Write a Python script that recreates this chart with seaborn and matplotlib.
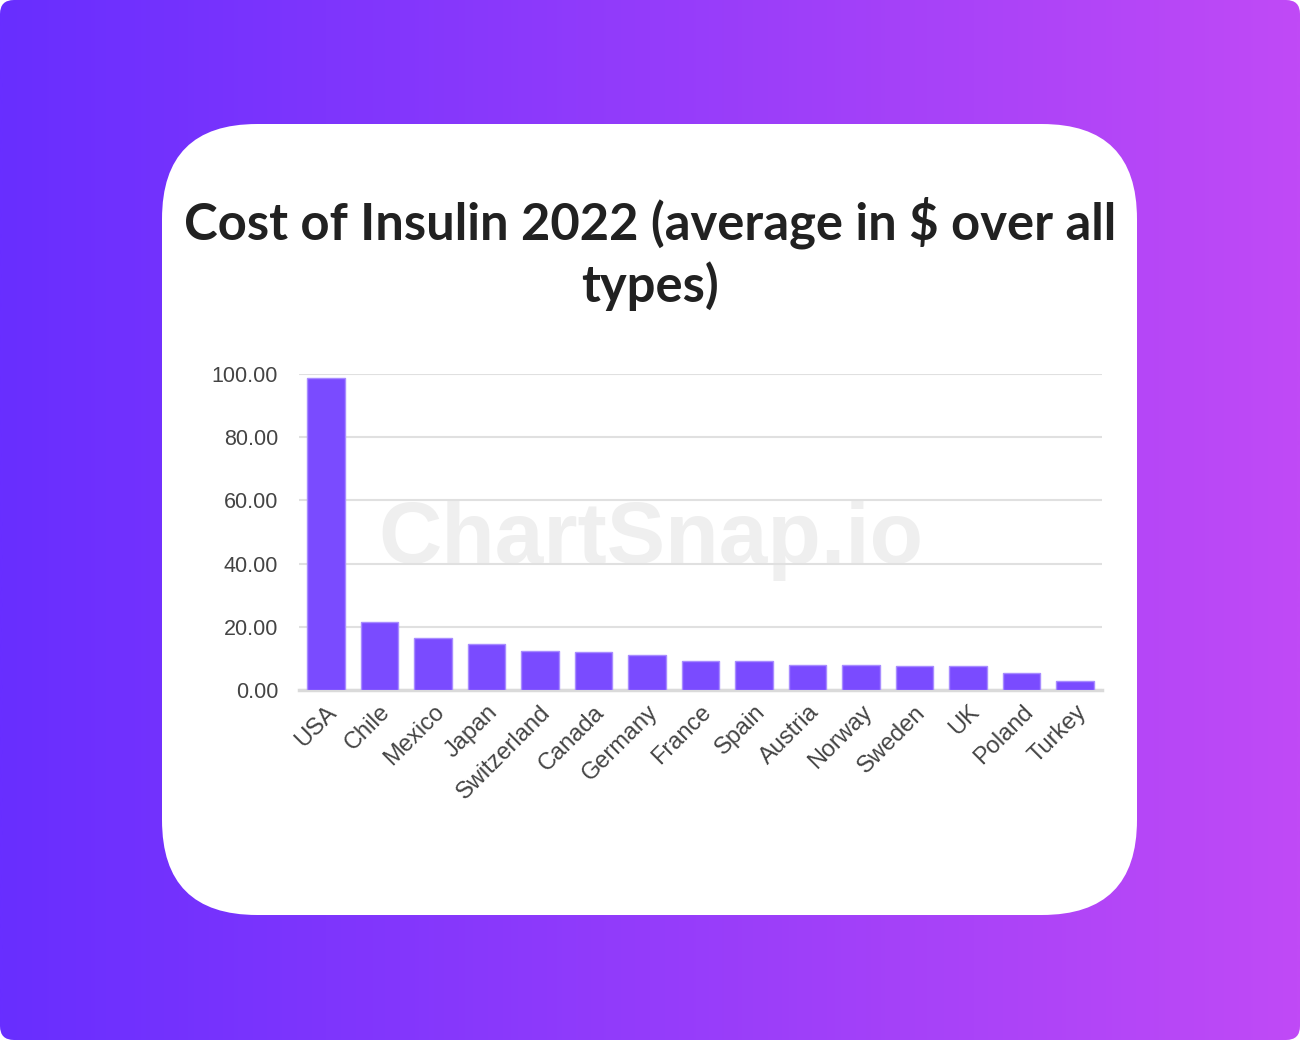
import matplotlib
matplotlib.use('Agg')
import matplotlib.pyplot as plt
from matplotlib.patches import FancyBboxPatch
import seaborn as sns
import pandas as pd
import numpy as np

countries = ['USA', 'Chile', 'Mexico', 'Japan', 'Switzerland', 'Canada', 'Germany',
             'France', 'Spain', 'Austria', 'Norway', 'Sweden', 'UK', 'Poland', 'Turkey']
cost = [98.6, 21.5, 16.5, 14.5, 12.3, 12.0, 11.1, 9.1, 9.1, 7.9, 7.8, 7.7, 7.5, 5.4, 2.75]
y_ticks = [0, 20, 40, 60, 80, 100]

title = 'Cost of Insulin 2022 (average in $ over all\ntypes)'
W, H = 1300, 1040

sns.set_theme(style='white')
plt.rcParams['font.family'] = ['Liberation Sans', 'DejaVu Sans']

fig = plt.figure(figsize=(W / 100, H / 100), dpi=100)
fig.patch.set_facecolor('white')

# background: gradient panel + white rounded card (pixel coordinates)
bg = fig.add_axes([0, 0, 1, 1], zorder=0)
bg.set_xlim(0, W)
bg.set_ylim(H, 0)
bg.axis('off')

left_col = np.array([104, 46, 255]) / 255
right_col = np.array([192, 74, 246]) / 255
t = np.linspace(0, 1, 256)
grad = (left_col[None, :] * (1 - t[:, None]) + right_col[None, :] * t[:, None])[None, :, :]
outer = FancyBboxPatch((0, 0), W, H, boxstyle='round,pad=0,rounding_size=14',
                       facecolor='none', edgecolor='none', transform=bg.transData)
bg.add_patch(outer)
im = bg.imshow(grad, extent=[0, W, H, 0], aspect='auto', interpolation='bilinear')
im.set_clip_path(outer)

card = FancyBboxPatch((162, 124), 975, 791, boxstyle='round,pad=0,rounding_size=95',
                      facecolor='white', edgecolor='none')
bg.add_patch(card)

bg.text(651, 563, 'ChartSnap.io', fontsize=63, fontweight='bold', color='#efefef',
        ha='center', va='baseline')

bg.text(650, 254, title, fontsize=36.5, fontweight='bold', color='#212121',
        ha='center', va='center', linespacing=1.3, family=['Lato', 'DejaVu Sans'])

# main chart
ax = fig.add_axes([299 / W, 1 - 690 / H, (1102 - 299) / W, (690 - 374) / H], zorder=2)
ax.patch.set_alpha(0)

df = pd.DataFrame({'country': countries, 'cost': cost})
sns.barplot(data=df, x='country', y='cost', ax=ax, color='#7a4bff', saturation=1,
            width=0.7, edgecolor='#a88cff', linewidth=1, zorder=3)

ax.set_xlim(-0.5, len(countries) - 0.5)
ax.set_ylim(0, 100)
ax.set_yticks(y_ticks)
ax.set_yticklabels([f'{v:.2f}' for v in y_ticks])
ax.set_xlabel('')
ax.set_ylabel('')

ax.yaxis.grid(True, color='#e0e0e0', linewidth=1.5)
ax.set_axisbelow(True)
for side in ['left', 'right', 'top']:
    ax.spines[side].set_visible(False)
ax.spines['bottom'].set_color('#dadada')
ax.spines['bottom'].set_linewidth(2.5)

ax.tick_params(axis='y', length=0, pad=15, labelsize=15.5, labelcolor='#444444')
ax.tick_params(axis='x', which='major', length=0, pad=8, labelsize=17, labelcolor='#444444')
ax.set_xticks(np.arange(len(countries) + 1) - 0.5, minor=True)
ax.tick_params(axis='x', which='minor', length=9, width=1.5, color='#dadada')
plt.setp(ax.get_xticklabels(), rotation=45, ha='right', rotation_mode='anchor')

fig.savefig('out.png', dpi=100)
